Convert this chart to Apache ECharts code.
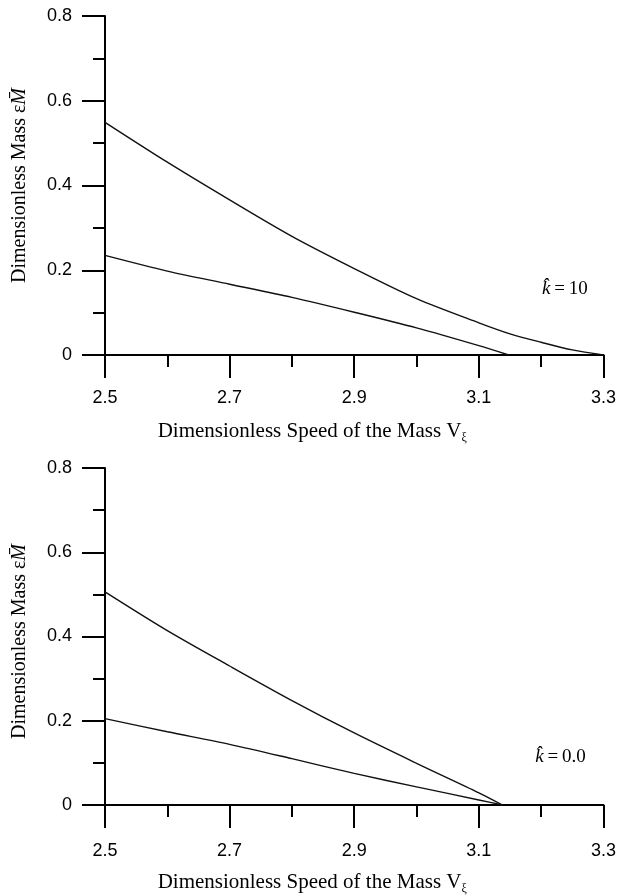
<!DOCTYPE html>
<html><head><meta charset="utf-8">
<script src="https://cdn.jsdelivr.net/npm/echarts@6/dist/echarts.min.js"></script>
<style>html,body{margin:0;padding:0;background:#fff}#c{width:619px;height:896px}</style>
</head><body><div id="c"></div>
<script>
// Top panel (k̂ = 10)
const k10UpperX = [2.5, 2.6, 2.7, 2.8, 2.9, 3.0, 3.1, 3.15, 3.2, 3.25, 3.3];
const k10UpperY = [0.549, 0.455, 0.366, 0.280, 0.204, 0.133, 0.076, 0.050, 0.030, 0.012, 0];
const k10LowerX = [2.5, 2.6, 2.7, 2.8, 2.9, 3.0, 3.1, 3.148];
const k10LowerY = [0.235, 0.198, 0.167, 0.136, 0.101, 0.064, 0.022, 0];
// Bottom panel (k̂ = 0.0)
const k0UpperX = [2.5, 2.6, 2.7, 2.8, 2.9, 3.0, 3.1, 3.138];
const k0UpperY = [0.506, 0.414, 0.330, 0.248, 0.171, 0.099, 0.029, 0];
const k0LowerX = [2.5, 2.6, 2.7, 2.8, 2.9, 3.0, 3.1, 3.138];
const k0LowerY = [0.205, 0.174, 0.144, 0.110, 0.075, 0.043, 0.012, 0];
// Axis ticks
const xTicks = {min: 2.5, max: 3.3, interval: 0.2};
const yTicks = {min: 0, max: 0.8, interval: 0.2};
const panelLabels = ['10', '0.0'];

const pairs = (xs, ys) => xs.map((x, i) => [x, ys[i]]);
const serif = 'Liberation Serif';
const sans = 'Liberation Sans';
const black = '#000';

function xAxisFor(gi, labelMargin, nameGap) {
  return {
    type: 'value', gridIndex: gi, min: xTicks.min, max: xTicks.max, interval: xTicks.interval,
    axisLine: {show: true, onZero: false, lineStyle: {color: black, width: 2}},
    axisTick: {show: true, length: 23, lineStyle: {color: black, width: 2}},
    minorTick: {show: true, splitNumber: 2, length: 12, lineStyle: {color: black, width: 2}},
    splitLine: {show: false},
    axisLabel: {color: black, fontFamily: sans, fontSize: 18, margin: labelMargin,
      formatter: v => v.toFixed(1)},
    name: '{t|Dimensionless Speed of the Mass V}{s|ξ}',
    nameLocation: 'middle', nameGap: nameGap,
    nameTextStyle: {color: black, fontFamily: serif, fontSize: 21, padding: [0, 84, 0, 0],
      rich: {t: {fontFamily: serif, fontSize: 21, color: black, lineHeight: 26, verticalAlign: 'middle'},
             s: {fontFamily: serif, fontSize: 12, color: black, lineHeight: 26, verticalAlign: 'bottom'}}}
  };
}
function yAxisFor(gi, nameShift) {
  return {
    type: 'value', gridIndex: gi, min: yTicks.min, max: yTicks.max, interval: yTicks.interval,
    axisLine: {show: true, lineStyle: {color: black, width: 2}},
    axisTick: {show: true, length: 23, lineStyle: {color: black, width: 2}},
    minorTick: {show: true, splitNumber: 2, length: 12, lineStyle: {color: black, width: 2}},
    splitLine: {show: false},
    axisLabel: {color: black, fontFamily: sans, fontSize: 18, margin: 33},
    name: '{t|Dimensionless Mass ε}{m|M\u0304}',
    nameLocation: 'middle', nameGap: 75, nameRotate: 90,
    nameTextStyle: {color: black, fontFamily: serif, fontSize: 20, padding: [0, nameShift, 0, 0],
      rich: {t: {fontFamily: serif, fontSize: 20, color: black},
             m: {fontFamily: serif, fontSize: 20, fontStyle: 'italic', color: black}}}
  };
}
function lineSeries(xi, data) {
  return {type: 'line', xAxisIndex: xi, yAxisIndex: xi, data: data, showSymbol: false,
    smooth: 0.3, lineStyle: {color: '#111', width: 1.4}, silent: true, animation: false};
}

const chart = echarts.init(document.getElementById('c'), null, {renderer: 'canvas'});
chart.setOption({
  backgroundColor: '#fff',
  animation: false,
  grid: [
    {left: 105, top: 16, width: 500, height: 339},
    {left: 105, top: 468, width: 500, height: 338}
  ],
  xAxis: [xAxisFor(0, 34, 63), xAxisFor(1, 37, 64)],
  yAxis: [yAxisFor(0, 0), yAxisFor(1, 10)],
  series: [
    lineSeries(0, pairs(k10UpperX, k10UpperY)),
    lineSeries(0, pairs(k10LowerX, k10LowerY)),
    lineSeries(1, pairs(k0UpperX, k0UpperY)),
    lineSeries(1, pairs(k0LowerX, k0LowerY))
  ]
});
const anchors = [[0, [3.238, 0.155]], [1, [3.231, 0.113]]];
chart.setOption({
  graphic: anchors.map(([gi, pt], i) => {
    const p = chart.convertToPixel({gridIndex: gi}, pt);
    return {type: 'text', x: p[0], y: p[1],
      style: {text: '{k|k\u0302}{e|\u2009=\u2009' + panelLabels[i] + '}', align: 'center', verticalAlign: 'middle',
        rich: {k: {fontFamily: serif, fontStyle: 'italic', fontSize: 19, fill: black},
               e: {fontFamily: serif, fontSize: 19, fill: black}}}};
  })
});
</script></body></html>
